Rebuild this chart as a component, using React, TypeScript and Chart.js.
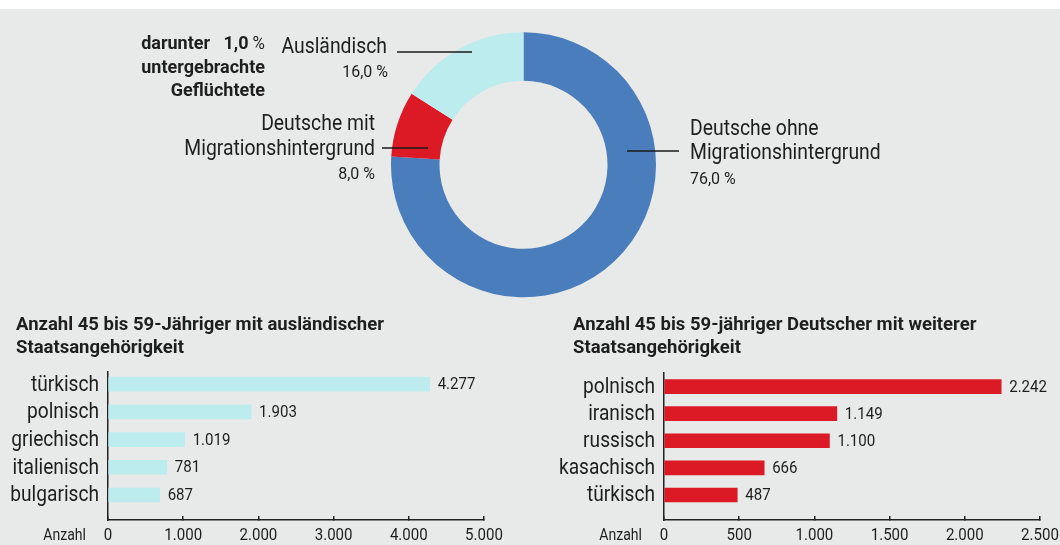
import React, { useEffect, useRef } from "react";
import { Chart, registerables } from "chart.js";

Chart.register(...registerables);

// ---------- data ----------
const shareLabels = ["Deutsche ohne Migrationshintergrund", "Deutsche mit Migrationshintergrund", "Ausländisch"];
const shareLabelLines = [["Deutsche ohne", "Migrationshintergrund"], ["Deutsche mit", "Migrationshintergrund"], ["Ausländisch"]];
const shareValues = [76.0, 8.0, 16.0];
const refugeeShare = 1.0;
const refugeeNote = ["untergebrachte", "Geflüchtete"];

const foreignTitle = ["Anzahl 45 bis 59-Jähriger mit ausländischer", "Staatsangehörigkeit"];
const foreignCategories = ["türkisch", "polnisch", "griechisch", "italienisch", "bulgarisch"];
const foreignValues = [4277, 1903, 1019, 781, 687];
const foreignTicks = [0, 1000, 2000, 3000, 4000, 5000];

const dualTitle = ["Anzahl 45 bis 59-jähriger Deutscher mit weiterer", "Staatsangehörigkeit"];
const dualCategories = ["polnisch", "iranisch", "russisch", "kasachisch", "türkisch"];
const dualValues = [2242, 1149, 1100, 666, 487];
const dualTicks = [0, 500, 1000, 1500, 2000, 2500];

const axisUnitLabel = "Anzahl";

// ---------- styles ----------
const FONT = 'Roboto, "Liberation Sans", sans-serif';
const TEXT = "#1e1e1e";
const BLUE = "#4a7dbc";
const RED = "#dc1a26";
const CYAN = "#bdecee";
const BG = "#e8e9e9";
const NARROW_TXT = 0.88; // condensed look for words
const NARROW_CAT = 0.87; // condensed look for category labels
const NARROW_NUM = 0.94; // condensed look for numbers
const f = (size: number, weight = "normal") => `${weight} ${size}px ${FONT}`;

function fmtNum(n: number) {
  return String(Math.round(n)).replace(/\B(?=(\d{3})+(?!\d))/g, ".");
}
function fmt1(v: number) {
  return v.toFixed(1).replace(".", ",");
}
function fmtPct(v: number) {
  return fmt1(v) + " %";
}

function drawText(
  ctx: CanvasRenderingContext2D,
  text: string,
  x: number,
  y: number,
  align: CanvasTextAlign,
  font: string,
  sx: number,
  baseline: CanvasTextBaseline = "alphabetic"
) {
  ctx.save();
  ctx.font = font;
  ctx.textAlign = align;
  ctx.textBaseline = baseline;
  ctx.fillStyle = TEXT;
  ctx.translate(x, y);
  ctx.scale(sx, 1);
  ctx.fillText(text, 0, 0);
  ctx.restore();
}

const donutLabelPlugin = {
  id: "donutLabels",
  afterDraw(chart: any) {
    const ctx = chart.ctx as CanvasRenderingContext2D;
    ctx.save();

    // refugee note (bold)
    ctx.font = f(18);
    const pw = ctx.measureText("%").width * 0.94;
    drawText(ctx, "%", 265, 49, "right", f(18), 0.94);
    drawText(ctx, "darunter   " + fmt1(refugeeShare), 265 - pw - 4, 49, "right", f(18, "bold"), 1);
    drawText(ctx, refugeeNote[0], 265, 73, "right", f(18, "bold"), 1);
    drawText(ctx, refugeeNote[1], 265, 96, "right", f(18, "bold"), 1);

    // Ausländisch
    drawText(ctx, shareLabelLines[2][0], 387, 53, "right", f(22), NARROW_TXT);
    drawText(ctx, fmtPct(shareValues[2]), 388, 77, "right", f(17), NARROW_NUM);

    // Deutsche mit Migrationshintergrund
    drawText(ctx, shareLabelLines[1][0], 375, 130, "right", f(22), NARROW_TXT);
    drawText(ctx, shareLabelLines[1][1], 375, 155, "right", f(22), NARROW_TXT);
    drawText(ctx, fmtPct(shareValues[1]), 375, 178.5, "right", f(17), NARROW_NUM);

    // Deutsche ohne Migrationshintergrund
    drawText(ctx, shareLabelLines[0][0], 690, 134.5, "left", f(22), NARROW_TXT);
    drawText(ctx, shareLabelLines[0][1], 690, 159, "left", f(22), NARROW_TXT);
    drawText(ctx, fmtPct(shareValues[0]), 690, 183.5, "left", f(17), NARROW_NUM);

    // leader lines
    ctx.strokeStyle = "#1a1a1a";
    ctx.lineWidth = 1.5;
    const seg = (x1: number, x2: number, y: number) => {
      ctx.beginPath();
      ctx.moveTo(x1, y);
      ctx.lineTo(x2, y);
      ctx.stroke();
    };
    seg(397, 472, 52);
    seg(382, 428, 148);
    seg(627, 679, 151);
    ctx.restore();
  },
};

function makeBarExtras(categories: string[], values: number[], titleLines: string[], titleX: number) {
  return {
    id: "barExtras",
    afterDraw(chart: any) {
      const ctx = chart.ctx as CanvasRenderingContext2D;
      // category labels from the y scale
      const ys = chart.scales.y;
      ys.ticks.forEach((t: any) => {
        drawText(ctx, categories[t.value], ys.right - 9, ys.getPixelForValue(t.value) + 1, "right", f(22), NARROW_CAT, "middle");
      });
      // x tick labels from the x scale
      const xs = chart.scales.x;
      xs.ticks.forEach((t: any) => {
        drawText(ctx, fmtNum(t.value), xs.getPixelForValue(t.value), 240, "center", f(16), NARROW_NUM);
      });
      // value labels
      const meta = chart.getDatasetMeta(0);
      meta.data.forEach((bar: any, i: number) => {
        drawText(ctx, fmtNum(values[i]), bar.x + 8, bar.y + 1, "left", f(16), NARROW_NUM, "middle");
      });
      // title
      titleLines.forEach((t, i) => drawText(ctx, t, titleX, 30 + i * 22.5, "left", f(18.5, "bold"), 1));
      // unit label
      drawText(ctx, axisUnitLabel, chart.chartArea.left - 22, 240, "right", f(16), NARROW_TXT);
    },
  };
}

function buildBarChart(
  canvas: HTMLCanvasElement,
  categories: string[],
  values: number[],
  ticks: number[],
  color: string,
  yMin: number,
  yMax: number,
  yWidth: number,
  pad: { top: number; right: number },
  titleLines: string[],
  titleX: number
) {
  return new Chart(canvas, {
    type: "bar",
    data: {
      datasets: [
        {
          data: values.map((v, i) => ({ x: v, y: i })),
          backgroundColor: color,
          borderWidth: 0,
          barThickness: 14,
        },
      ],
    },
    options: {
      indexAxis: "y",
      responsive: false,
      animation: false,
      events: [],
      layout: { padding: { top: pad.top, right: pad.right, left: 0, bottom: 0 } },
      plugins: { legend: { display: false }, tooltip: { enabled: false } },
      scales: {
        y: {
          type: "linear",
          reverse: true,
          offset: false,
          min: yMin,
          max: yMax,
          afterBuildTicks: (s: any) => {
            s.ticks = categories.map((_, i) => ({ value: i }));
          },
          afterFit: (s: any) => {
            s.width = yWidth;
          },
          ticks: { display: false },
          grid: { display: false, drawTicks: false, offset: false },
          border: { display: true, color: "#222", width: 1.5 },
        },
        x: {
          type: "linear",
          offset: false,
          min: ticks[0],
          max: ticks[ticks.length - 1],
          afterBuildTicks: (s: any) => {
            s.ticks = ticks.map((v) => ({ value: v }));
          },
          afterFit: (s: any) => {
            s.height = 25;
          },
          ticks: { display: false },
          grid: { drawOnChartArea: false, drawTicks: true, tickLength: -4, color: "#222", lineWidth: 1.5 },
          border: { display: true, color: "#222", width: 1.5 },
        },
      },
    } as any,
    plugins: [makeBarExtras(categories, values, titleLines, titleX)],
  });
}

export default function App() {
  const donutRef = useRef<HTMLCanvasElement>(null);
  const leftRef = useRef<HTMLCanvasElement>(null);
  const rightRef = useRef<HTMLCanvasElement>(null);

  useEffect(() => {
    const donut = new Chart(donutRef.current!, {
      type: "doughnut",
      data: {
        labels: shareLabels,
        datasets: [{ data: shareValues, backgroundColor: [BLUE, RED, CYAN], borderWidth: 0 }],
      },
      options: {
        responsive: false,
        animation: false,
        events: [],
        cutout: "63.4%",
        rotation: 0,
        layout: { padding: { top: 32.3, left: 391, right: 404, bottom: 2.7 } },
        plugins: { legend: { display: false }, tooltip: { enabled: false } },
      } as any,
      plugins: [donutLabelPlugin],
    });

    const left = buildBarChart(
      leftRef.current!,
      foreignCategories,
      foreignValues,
      foreignTicks,
      CYAN,
      -0.44,
      4.903,
      108,
      { top: 72, right: 46 },
      foreignTitle,
      16
    );
    const right = buildBarChart(
      rightRef.current!,
      dualCategories,
      dualValues,
      dualTicks,
      RED,
      -0.5,
      4.924,
      134,
      { top: 73, right: 20 },
      dualTitle,
      43
    );
    return () => {
      donut.destroy();
      left.destroy();
      right.destroy();
    };
  }, []);

  return (
    <div style={{ position: "absolute", left: 0, top: 0, width: 1060, height: 545, background: "#fff", overflow: "hidden" }}>
      <div style={{ position: "absolute", left: 0, top: 9, width: 1060, height: 536, background: BG }} />
      <canvas ref={donutRef} width={1060} height={300} style={{ position: "absolute", left: 0, top: 0 }} />
      <canvas ref={leftRef} width={530} height={245} style={{ position: "absolute", left: 0, top: 300 }} />
      <canvas ref={rightRef} width={530} height={245} style={{ position: "absolute", left: 530, top: 300 }} />
    </div>
  );
}
